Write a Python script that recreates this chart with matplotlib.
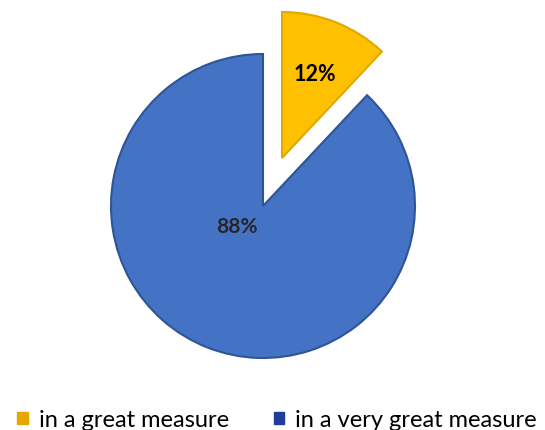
import matplotlib.pyplot as plt
from matplotlib.patches import Patch

labels = ['in a great measure', 'in a very great measure']
shares = [12, 88]
colors = ['#FFC000', '#4472C4']
edge_colors = ['#E0A800', '#2F5597']
legend_colors = ['#E6A800', '#1F3D9A']
label_colors = ['black', '#262626']

fig = plt.figure(figsize=(5.45, 4.31), dpi=100)
ax = fig.add_axes([0, 0, 1, 1])

wedges, texts = ax.pie(shares, colors=colors, startangle=90, counterclock=False,
                       explode=[0.34, 0], radius=1,
                       wedgeprops={'linewidth': 1.5})
for w, ec in zip(wedges, edge_colors):
    w.set_edgecolor(ec)
# the detached slice looks a bit smaller in the original
wedges[0].set_radius(0.96)

# percentage labels placed inside slices
ax.text(0.34, 0.87, f'{shares[0]}%', ha='center', va='center',
        fontsize=15.5, fontweight='bold', color=label_colors[0], family='Lato')
ax.text(-0.17, -0.13, f'{shares[1]}%', ha='center', va='center',
        fontsize=15, fontweight='bold', color=label_colors[1], family='Lato')

ax.set_xlim(-263 / 152, 282 / 152)
ax.set_ylim(-224 / 152, 207 / 152)
ax.set_aspect('auto')
ax.axis('off')

handles = [Patch(facecolor=c, edgecolor=c) for c in legend_colors]
fig.legend(handles, labels, loc='center', bbox_to_anchor=(277 / 545, 1 - 421 / 431),
           ncol=2, frameon=False, handlelength=0.45, handleheight=0.45,
           handletextpad=0.45, columnspacing=1.9, borderpad=0,
           prop={'family': 'Lato', 'size': 17})

fig.savefig('out.png', dpi=100)
